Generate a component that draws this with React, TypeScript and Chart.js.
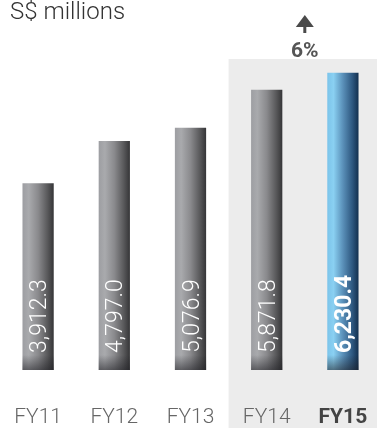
import React, { useEffect, useRef } from "react";
import { Chart, registerables } from "chart.js";

Chart.register(...registerables);

const categories = ["FY11", "FY12", "FY13", "FY14", "FY15"];
const revenue = [3912.3, 4797.0, 5076.9, 5871.8, 6230.4];
const valueLabels = ["3,912.3", "4,797.0", "5,076.9", "5,871.8", "6,230.4"];
const unitLabel = "S$ millions";
const growthLabel = "6%";
const highlightIndex = 4;
const panelStartIndex = 3;

const FONT = "Roboto, 'Liberation Sans', Arial, sans-serif";

function grayGradient(c: CanvasRenderingContext2D, x0: number, x1: number) {
  const g = c.createLinearGradient(x0, 0, x1, 0);
  g.addColorStop(0, "#9d9ea2");
  g.addColorStop(0.2, "#a9aaad");
  g.addColorStop(0.5, "#8a8a8d");
  g.addColorStop(0.8, "#59595b");
  g.addColorStop(1, "#353537");
  return g;
}
function blueGradient(c: CanvasRenderingContext2D, x0: number, x1: number) {
  const g = c.createLinearGradient(x0, 0, x1, 0);
  g.addColorStop(0, "#7cc4ea");
  g.addColorStop(0.2, "#8ad0f2");
  g.addColorStop(0.5, "#5a90b9");
  g.addColorStop(0.8, "#2e5880");
  g.addColorStop(1, "#13304f");
  return g;
}

const decorPlugin = {
  id: "decor",
  beforeDraw(chart: any) {
    const c = chart.ctx;
    const xs = chart.scales.x;
    const left =
      (xs.getPixelForValue(panelStartIndex - 1) + xs.getPixelForValue(panelStartIndex)) / 2;
    c.save();
    c.fillStyle = "#ececec";
    c.fillRect(left, 59, chart.width - left, chart.height - 59);
    c.restore();
  },
  afterDatasetsDraw(chart: any) {
    const c = chart.ctx;
    const meta = chart.getDatasetMeta(0);
    meta.data.forEach((bar: any, i: number) => {
      const x0 = bar.x - bar.width / 2;
      const base = bar.base;
      const g = c.createLinearGradient(0, base - 15, 0, base);
      g.addColorStop(0, "rgba(30,30,35,0)");
      g.addColorStop(1, "rgba(30,30,35,0.55)");
      c.save();
      c.fillStyle = g;
      c.fillRect(x0, base - 15, bar.width, 15);
      c.restore();
      c.save();
      c.translate(bar.x + 8, base - 17);
      c.rotate(-Math.PI / 2);
      c.fillStyle = "#ffffff";
      c.font = `${i === highlightIndex ? "bold" : "300"} 23px ${FONT}`;
      c.textAlign = "left";
      c.textBaseline = "alphabetic";
      c.fillText(valueLabels[i], 0, 0);
      c.restore();
    });
  },
  afterDraw(chart: any) {
    const c = chart.ctx;
    const xs = chart.scales.x;
    c.save();
    c.fillStyle = "#333333";
    c.font = `300 24px ${FONT}`;
    c.textAlign = "left";
    c.textBaseline = "alphabetic";
    c.fillText(unitLabel, 10, 19);

    const cx = (xs.getPixelForValue(highlightIndex - 1) + xs.getPixelForValue(highlightIndex)) / 2;
    c.fillStyle = "#4a4a4a";
    c.beginPath();
    c.moveTo(cx, 15);
    c.lineTo(cx + 9, 27);
    c.lineTo(cx - 9, 27);
    c.closePath();
    c.fill();
    c.fillRect(cx - 1.5, 26, 3, 7);

    c.fillStyle = "#555555";
    c.font = `bold 21px ${FONT}`;
    c.textAlign = "center";
    c.textBaseline = "middle";
    c.fillText(growthLabel, cx, 52);
    c.restore();
  },
};

export default function App() {
  const ref = useRef<HTMLCanvasElement | null>(null);
  useEffect(() => {
    if (!ref.current) return;
    const chart = new Chart(ref.current, {
      type: "bar",
      data: {
        labels: categories,
        datasets: [
          {
            data: revenue,
            barPercentage: 0.41,
            categoryPercentage: 1,
            borderWidth: 0,
            backgroundColor: (ctx: any) => {
              const ch = ctx.chart;
              if (!ch.chartArea || ctx.dataIndex === undefined) return "#888888";
              const x = ch.scales.x.getPixelForValue(ctx.dataIndex);
              const half = (ch.chartArea.width / categories.length) * 0.41 / 2;
              return ctx.dataIndex === highlightIndex
                ? blueGradient(ch.ctx, x - half, x + half)
                : grayGradient(ch.ctx, x - half, x + half);
            },
          },
        ],
      },
      options: {
        animation: false,
        responsive: false,
        maintainAspectRatio: false,
        layout: { padding: { top: 36, left: 0, right: 0, bottom: 0 } },
        plugins: { legend: { display: false }, tooltip: { enabled: false } },
        scales: {
          x: {
            grid: {
              display: true,
              drawOnChartArea: false,
              drawTicks: true,
              tickLength: 37,
              color: "rgba(0,0,0,0)",
            },
            border: { display: false },
            ticks: {
              padding: 0,
              font: (c: any) => ({
                family: FONT,
                size: 21,
                lineHeight: 1,
                weight: c.index === highlightIndex ? "bold" : "300",
              }),
              color: (c: any) => (c.index === highlightIndex ? "#444444" : "#666666"),
            },
          },
          y: { display: false, min: 0, max: 7000 },
        },
      },
      plugins: [decorPlugin],
    });
    return () => chart.destroy();
  }, []);
  return (
    <div
      style={{
        position: "fixed",
        left: 0,
        top: 0,
        width: 377,
        height: 428,
        overflow: "hidden",
        background: "#ffffff",
      }}
    >
      <canvas ref={ref} width={381} height={428} style={{ display: "block", width: 381, height: 428 }} />
    </div>
  );
}
